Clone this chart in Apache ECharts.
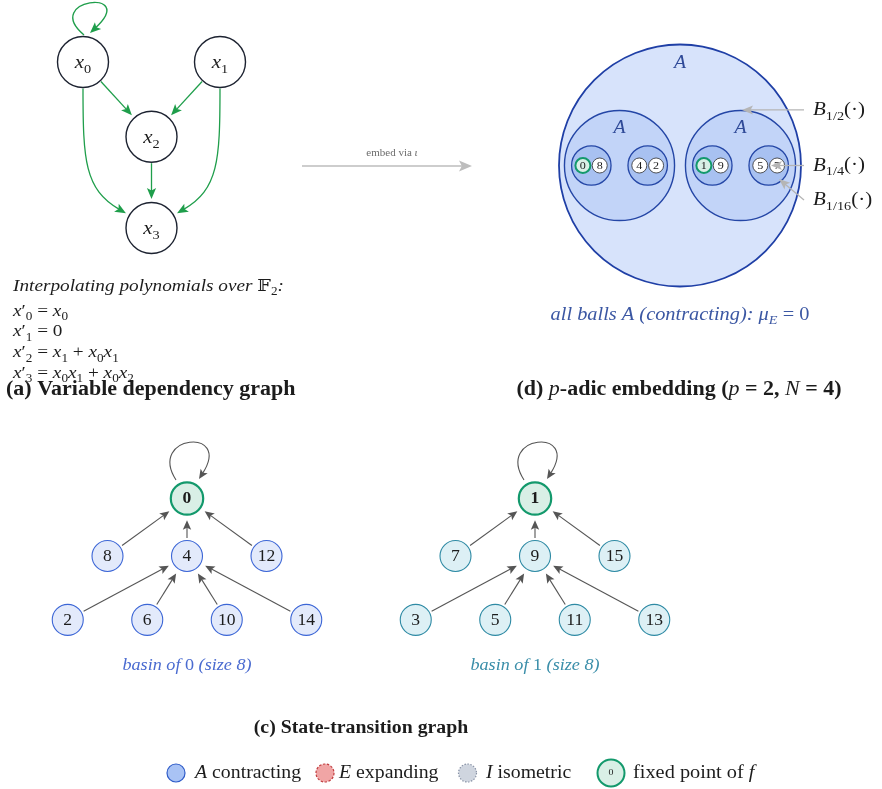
<!DOCTYPE html>
<html>
<head>
<meta charset="utf-8">
<title>Boolean network over F2: dependencies, state transitions, 2-adic embedding</title>
<script src="https://cdn.jsdelivr.net/npm/echarts@6.0.0/dist/echarts.min.js"></script>
<style>
  html, body { margin: 0; padding: 0; background: #ffffff; }
  #main { width: 882px; height: 789px; }
</style>
</head>
<body>
<div id="main"></div>
<script>
// ---------------- data ----------------
// Update rules over F2. Each variable's next value is a sum of monomials,
// every monomial given by the indices of the variables it multiplies.
const variableNames = ['0', '1', '2', '3'];
const updateRules = [
  [[0]],             // x0' = x0
  [],                // x1' = 0
  [[1], [0, 1]],     // x2' = x1 + x0 x1
  [[0, 1], [0, 2]]   // x3' = x0 x1 + x0 x2
];
// states of the two basins, in display order (root, middle row, bottom row)
const basinRoots = [0, 1];
const basinMiddle = [[8, 4, 12], [7, 9, 15]];
const basinLeaves = [[2, 6, 10, 14], [3, 5, 11, 13]];
const basinSizes = [8, 8];
const fixedPoints = [0, 1];
// states placed inside the four balls of radius 1/4
const ballStates = [[0, 8], [4, 2], [1, 9], [5, 7]];
// radii named by the callouts
const ballRadii = ['1/2', '1/4', '1/16'];
// legend entries: [symbol letter, word]
const legendEntries = [['A', ' contracting'], ['E', ' expanding'], ['I', ' isometric']];

// ---------------- layout & style ----------------
const SERIF = '"Liberation Serif", "DejaVu Serif", serif';
const SX = 1.1;                 // horizontal stretch for the serif text
const INK = '#1c1c1c';
const GREEN = '#1f9e4b';
const EDGE_GRAY = '#555555';
const NOTE_GRAY = '#b5b5b5';
const DEP_LAYOUT = [[0, 0], [2, 0], [1, 0.9], [1, 2]];
const DEP_R = 25.5;
const LEVEL_DEPTH = [0, 1, 2.11];
const NODE_R = 15.5, ROOT_R = 16.2;
const BASIN_STYLE = [
  { fill: '#e3eafb', stroke: '#3c66d6', label: '#4a6bd0' },
  { fill: '#ddf0f5', stroke: '#2e8aa4', label: '#3a8ea9' }
];
const FIX_FILL = '#d9efe6', FIX_STROKE = '#13996c';
const BALL_STYLE = [
  { fill: '#d7e3fb', stroke: '#1f3fa6', lw: 1.8 },
  { fill: '#c2d4f8', stroke: '#2446a6', lw: 1.4 },
  { fill: '#a8c1f1', stroke: '#2446a6', lw: 1.3 }
];
const CALLOUTS = [
  { tip: [0.512, -0.459], tail: [1.025, -0.459] },
  { tip: [0.752, 0.0],    tail: [1.025, 0.0] },
  { tip: [0.818, 0.112],  tail: [1.025, 0.285] }
];

// ---------------- helpers ----------------
function applyRules(s) {
  const bit = i => (s >> i) & 1;
  let out = 0;
  updateRules.forEach((mons, i) => {
    let v = 0;
    mons.forEach(m => { v ^= m.reduce((p, j) => p & bit(j), 1); });
    out |= v << i;
  });
  return out;
}

function richStyles(size, color) {
  const lh = Math.round(size * 1.35);
  const base = { fontFamily: SERIF, fontSize: size, fill: color, lineHeight: lh, verticalAlign: 'middle' };
  const sub = { fontFamily: SERIF, fontSize: Math.round(size * 0.7), fill: color,
                lineHeight: Math.round(size * 0.85), verticalAlign: 'bottom' };
  return {
    rm: base,
    it: Object.assign({}, base, { fontStyle: 'italic' }),
    bf: Object.assign({}, base, { fontWeight: 'bold' }),
    sub: sub,
    subit: Object.assign({}, sub, { fontStyle: 'italic' })
  };
}

function mathText(x, y, str, size, color, align) {
  return {
    type: 'text', x: x, y: y, scaleX: SX, silent: true,
    style: {
      text: str, rich: richStyles(size, color),
      fontFamily: SERIF, fontSize: size, fill: color,
      align: align, textAlign: align, verticalAlign: 'middle', textVerticalAlign: 'middle'
    }
  };
}

function arrowHead(tip, d, L, hw, color) {
  const bx = tip[0] - d[0] * L, by = tip[1] - d[1] * L;
  const nx = -d[1], ny = d[0];
  const notch = [tip[0] - d[0] * L * 0.78, tip[1] - d[1] * L * 0.78];
  return { type: 'polygon', shape: { points: [tip, [bx + nx * hw, by + ny * hw], notch, [bx - nx * hw, by - ny * hw]] },
           style: { fill: color } };
}

function unit(a, b) {
  const dx = b[0] - a[0], dy = b[1] - a[1], l = Math.hypot(dx, dy);
  return [dx / l, dy / l];
}

function straightArrow(start, tip, color, lw, L, hw) {
  const d = unit(start, tip);
  const end = [tip[0] - d[0] * L * 0.7, tip[1] - d[1] * L * 0.7];
  return [
    { type: 'line', shape: { x1: start[0], y1: start[1], x2: end[0], y2: end[1] }, style: { stroke: color, lineWidth: lw } },
    arrowHead(tip, d, L, hw, color)
  ];
}

function curveArrow(P, color, lw, L, hw) {
  const tip = P[3];
  const d = unit(P[2], P[3]);
  const back = L * 0.7;
  return [
    { type: 'bezierCurve',
      shape: { x1: P[0][0], y1: P[0][1], cpx1: P[1][0], cpy1: P[1][1],
               cpx2: P[2][0] - d[0] * back, cpy2: P[2][1] - d[1] * back,
               x2: tip[0] - d[0] * back, y2: tip[1] - d[1] * back },
      style: { stroke: color, lineWidth: lw, fill: 'none' } },
    arrowHead(tip, d, L, hw, color)
  ];
}

// ---------------- text built from the data ----------------
function monomialText(m) {
  return m.map(j => '{it|x}{sub|' + variableNames[j] + '}').join('');
}
function ruleText(i) {
  const mons = updateRules[i];
  const rhs = mons.length ? mons.map(monomialText).join('{rm| + }') : '{rm|0}';
  return '{it|x}{rm|′}{sub|' + variableNames[i] + '}{rm| = }' + rhs;
}

// dependency edges: j -> i whenever x_j appears in the rule of x_i
const depEdges = [];
updateRules.forEach((mons, i) => {
  const used = [];
  mons.forEach(m => m.forEach(j => { if (used.indexOf(j) < 0) used.push(j); }));
  used.sort().forEach(j => depEdges.push([j, i]));
});

// ---------------- panel (a): dependency graph ----------------
function renderDepEdge(params, api) {
  const src = api.value(2), tgt = api.value(3);
  const s = api.coord(DEP_LAYOUT[src]);
  const t = api.coord(DEP_LAYOUT[tgt]);
  let kids;
  if (src === tgt) {
    const P = [[1, -27], [-42, -63], [50, -69], [7, -29]].map(o => [s[0] + o[0], s[1] + o[1]]);
    kids = curveArrow(P, GREEN, 1.4, 11, 4.6);
  } else if (Math.abs(DEP_LAYOUT[tgt][1] - DEP_LAYOUT[src][1]) > 1.5) {
    const side = Math.sign(t[0] - s[0]);
    const d = [side * Math.cos(Math.PI / 6), Math.sin(Math.PI / 6)];
    const tip = [t[0] - d[0] * (DEP_R + 4), t[1] - d[1] * (DEP_R + 4)];
    const p0 = [s[0], s[1] + DEP_R + 1];
    const P = [p0, [p0[0], p0[1] + 72], [tip[0] - d[0] * 40, tip[1] - d[1] * 40], tip];
    kids = curveArrow(P, GREEN, 1.3, 11, 4.6);
  } else {
    const d = unit(s, t);
    const start = [s[0] + d[0] * (DEP_R + 1), s[1] + d[1] * (DEP_R + 1)];
    const tip = [t[0] - d[0] * (DEP_R + 3.5), t[1] - d[1] * (DEP_R + 3.5)];
    kids = straightArrow(start, tip, GREEN, 1.3, 11, 4.6);
  }
  return { type: 'group', children: kids };
}

function renderDepNode(params, api) {
  const i = api.value(2);
  const p = api.coord([api.value(0), api.value(1)]);
  return { type: 'group', children: [
    { type: 'circle', shape: { cx: p[0], cy: p[1], r: DEP_R }, style: { fill: '#ffffff', stroke: '#1d2331', lineWidth: 1.4 } },
    mathText(p[0], p[1] + 1, '{it|x}{sub|' + variableNames[i] + '}', 19, INK, 'center')
  ] };
}

// ---------------- panel (d): nested 2-adic balls ----------------
function buildBalls() {
  const items = [[0, 0, 1, 0, -1]];           // [x, y, r, level, state]
  for (let m = 0; m < 2; m++) {
    const mx = m - 0.5;
    items.push([mx, 0, 0.455, 1, -1]);
    for (let s = 0; s < 2; s++) {
      const sx = mx + (s - 0.5) * 0.466;
      items.push([sx, 0, 0.163, 2, -1]);
      ballStates[m * 2 + s].forEach((v, k) => items.push([sx + (k - 0.5) * 0.139, 0, 0.062, 3, v]));
    }
  }
  return items;
}

function renderBall(params, api) {
  const c = api.coord([api.value(0), api.value(1)]);
  const r = api.size([api.value(2), api.value(2)])[0];
  const level = api.value(3);
  const kids = [];
  if (level < 3) {
    const st = BALL_STYLE[level];
    kids.push({ type: 'circle', shape: { cx: c[0], cy: c[1], r: r }, style: { fill: st.fill, stroke: st.stroke, lineWidth: st.lw } });
    if (level === 0) kids.push(mathText(c[0], c[1] - r * 0.847, '{it|A}', 18, '#2f4a98', 'center'));
    if (level === 1) kids.push(mathText(c[0], c[1] - r * 0.68, '{it|A}', 18, '#2f4a98', 'center'));
  } else {
    const v = api.value(4);
    const fixed = fixedPoints.indexOf(v) >= 0;
    kids.push({ type: 'circle', shape: { cx: c[0], cy: c[1], r: r },
                style: { fill: fixed ? FIX_FILL : '#ffffff', stroke: fixed ? FIX_STROKE : '#2b2b2b', lineWidth: fixed ? 2 : 0.8 } });
    kids.push(mathText(c[0], c[1] + 0.5, '{rm|' + v + '}', 11, INK, 'center'));
  }
  return { type: 'group', children: kids };
}

function renderCallout(params, api) {
  const i = api.value(2);
  const tip = api.coord(CALLOUTS[i].tip);
  const tail = api.coord(CALLOUTS[i].tail);
  const kids = straightArrow(tail, tip, NOTE_GRAY, 1.3, 11, 4.5);
  kids.push(mathText(tail[0] + 9, tail[1], '{it|B}{sub|' + ballRadii[i] + '}{rm|(·)}', 19, INK, 'left'));
  return { type: 'group', children: kids };
}

// ---------------- panel (c): state-transition trees ----------------
function buildBasin(b) {
  const nodes = [{ v: basinRoots[b], slot: 0, level: 0 }];
  basinMiddle[b].forEach((v, i, a) => nodes.push({ v: v, slot: i - (a.length - 1) / 2, level: 1 }));
  basinLeaves[b].forEach((v, i, a) => nodes.push({ v: v, slot: i - (a.length - 1) / 2, level: 2 }));
  const where = {};
  nodes.forEach(n => { where[n.v] = [n.slot, LEVEL_DEPTH[n.level]]; });
  const isFixed = v => (fixedPoints.indexOf(v) >= 0 ? 1 : 0);
  return {
    nodes: nodes.map(n => [n.slot, LEVEL_DEPTH[n.level], n.v, isFixed(n.v)]),
    edges: nodes.map(n => {
      const t = applyRules(n.v);
      return [where[n.v][0], where[n.v][1], where[t][0], where[t][1], n.v === t ? 1 : 0, isFixed(t)];
    })
  };
}

function renderTransition(params, api) {
  const s = api.coord([api.value(0), api.value(1)]);
  const t = api.coord([api.value(2), api.value(3)]);
  let kids;
  if (api.value(4)) {
    const P = [[-11, -18.5], [-40, -64], [42, -66], [12, -19.5]].map(o => [s[0] + o[0], s[1] + o[1]]);
    kids = curveArrow(P, EDGE_GRAY, 1.1, 9.5, 4.2);
  } else {
    const d = unit(s, t);
    const rt = (api.value(5) ? ROOT_R + 1.1 : NODE_R + 0.6) + 4.5;
    const start = [s[0] + d[0] * (NODE_R + 2.5), s[1] + d[1] * (NODE_R + 2.5)];
    const tip = [t[0] - d[0] * rt, t[1] - d[1] * rt];
    kids = straightArrow(start, tip, EDGE_GRAY, 1.1, 9.5, 4.2);
  }
  return { type: 'group', children: kids };
}

function makeStateRenderer(b) {
  return function (params, api) {
    const p = api.coord([api.value(0), api.value(1)]);
    const v = api.value(2);
    const fixed = api.value(3) === 1;
    const st = BASIN_STYLE[b];
    return { type: 'group', children: [
      { type: 'circle', shape: { cx: p[0], cy: p[1], r: fixed ? ROOT_R : NODE_R },
        style: { fill: fixed ? FIX_FILL : st.fill, stroke: fixed ? FIX_STROKE : st.stroke, lineWidth: fixed ? 2.2 : 1.1 } },
      mathText(p[0], p[1] + 0.5, (fixed ? '{bf|' : '{rm|') + v + '}', 16, INK, 'center')
    ] };
  };
}

// ---------------- assemble ----------------
const basins = [buildBasin(0), buildBasin(1)];

function hiddenAxis(g, min, max, inverse) {
  return { type: 'value', gridIndex: g, min: min, max: max, show: false, inverse: !!inverse };
}

const series = [
  { type: 'custom', coordinateSystem: 'cartesian2d', xAxisIndex: 0, yAxisIndex: 0, clip: false, silent: true,
    renderItem: renderDepEdge, data: depEdges.map(e => [DEP_LAYOUT[e[0]][0], DEP_LAYOUT[e[0]][1], e[0], e[1]]) },
  { type: 'custom', coordinateSystem: 'cartesian2d', xAxisIndex: 0, yAxisIndex: 0, clip: false, silent: true,
    renderItem: renderDepNode, data: variableNames.map((_, i) => [DEP_LAYOUT[i][0], DEP_LAYOUT[i][1], i]) },
  { type: 'custom', coordinateSystem: 'cartesian2d', xAxisIndex: 1, yAxisIndex: 1, clip: false, silent: true,
    renderItem: renderBall, data: buildBalls() },
  { type: 'custom', coordinateSystem: 'cartesian2d', xAxisIndex: 1, yAxisIndex: 1, clip: false, silent: true,
    renderItem: renderCallout, data: ballRadii.map((_, i) => [CALLOUTS[i].tip[0], CALLOUTS[i].tip[1], i]) }
];
basins.forEach((bs, b) => {
  series.push({ type: 'custom', coordinateSystem: 'cartesian2d', xAxisIndex: 2 + b, yAxisIndex: 2 + b, clip: false, silent: true,
                renderItem: renderTransition, data: bs.edges });
  series.push({ type: 'custom', coordinateSystem: 'cartesian2d', xAxisIndex: 2 + b, yAxisIndex: 2 + b, clip: false, silent: true,
                renderItem: makeStateRenderer(b), data: bs.nodes });
});

// decorations, captions and legend
const embedArrow = [
  { type: 'line', shape: { x1: 302, y1: 166, x2: 463, y2: 166 }, style: { stroke: '#bdbdbd', lineWidth: 1.6 } },
  arrowHead([472, 166], [1, 0], 13, 5.5, '#bdbdbd')
];
const graphics = [].concat(
  [mathText(13, 286, '{it|Interpolating polynomials over }{rm|𝔽}{sub|2}{it|:}', 17.5, INK, 'left')],
  updateRules.map((_, i) => mathText(13, 311 + i * 20.7, ruleText(i), 17.5, INK, 'left')),
  [mathText(6, 390, '{bf|(a) Variable dependency graph}', 20, INK, 'left')],
  embedArrow,
  [mathText(392, 153, '{rm|embed via }{it|ι}', 10, '#6b6b6b', 'center')],
  [mathText(680, 315, '{it|all balls A (contracting): μ}{subit|E}{rm| = 0}', 18.5, '#3b57a3', 'center')],
  [mathText(679, 390, '{bf|(d) }{it|p}{bf|-adic embedding (}{it|p}{bf| = 2, }{it|N}{bf| = 4)}', 20, INK, 'center')],
  basinRoots.map((r, b) => mathText(b === 0 ? 187 : 535, 666,
    '{it|basin of }{rm|' + r + '}{it| (size ' + basinSizes[b] + ')}', 16.5, BASIN_STYLE[b].label, 'center')),
  [mathText(361, 728, '{bf|(c) State-transition graph}', 18, INK, 'center')]
);

// legend row
const legendSymbols = [
  { cx: 176, style: { fill: '#a9c3f5', stroke: '#2e5bc8', lineWidth: 1.2 } },
  { cx: 325, style: { fill: '#f0a5a5', stroke: '#c0393b', lineWidth: 1.2, lineDash: [2.5, 1.5] } },
  { cx: 467.5, style: { fill: '#cfd5df', stroke: '#8791a5', lineWidth: 1.2, lineDash: [1.5, 1.5] } }
];
const legendTextX = [195, 339, 486];
legendEntries.forEach((e, i) => {
  graphics.push({ type: 'circle', silent: true, shape: { cx: legendSymbols[i].cx, cy: 773, r: 9 }, style: legendSymbols[i].style });
  graphics.push(mathText(legendTextX[i], 773, '{it|' + e[0] + '}{rm|' + e[1] + '}', 18, INK, 'left'));
});
graphics.push({ type: 'circle', silent: true, shape: { cx: 611, cy: 773, r: 13.5 }, style: { fill: FIX_FILL, stroke: FIX_STROKE, lineWidth: 2 } });
graphics.push(mathText(611, 773, '{rm|' + fixedPoints[0] + '}', 9, INK, 'center'));
graphics.push(mathText(633, 773, '{rm|fixed point of }{it|f}', 18.5, INK, 'left'));

const chart = echarts.init(document.getElementById('main'), null, { renderer: 'canvas', width: 882, height: 789 });
chart.setOption({
  animation: false,
  backgroundColor: '#ffffff',
  grid: [
    { left: 83, top: 62, width: 137, height: 166, outerBoundsMode: 'none' },
    { left: 559, top: 44.5, width: 242, height: 242, outerBoundsMode: 'none' },
    { left: 28, top: 498.5, width: 318, height: 115, outerBoundsMode: 'none' },
    { left: 376, top: 498.5, width: 318, height: 115, outerBoundsMode: 'none' }
  ],
  xAxis: [hiddenAxis(0, 0, 2), hiddenAxis(1, -1, 1), hiddenAxis(2, -2, 2), hiddenAxis(3, -2, 2)],
  yAxis: [hiddenAxis(0, 0, 2, true), hiddenAxis(1, -1, 1, true), hiddenAxis(2, 0, 2, true), hiddenAxis(3, 0, 2, true)],
  series: series,
  graphic: { elements: graphics }
});
</script>
</body>
</html>
